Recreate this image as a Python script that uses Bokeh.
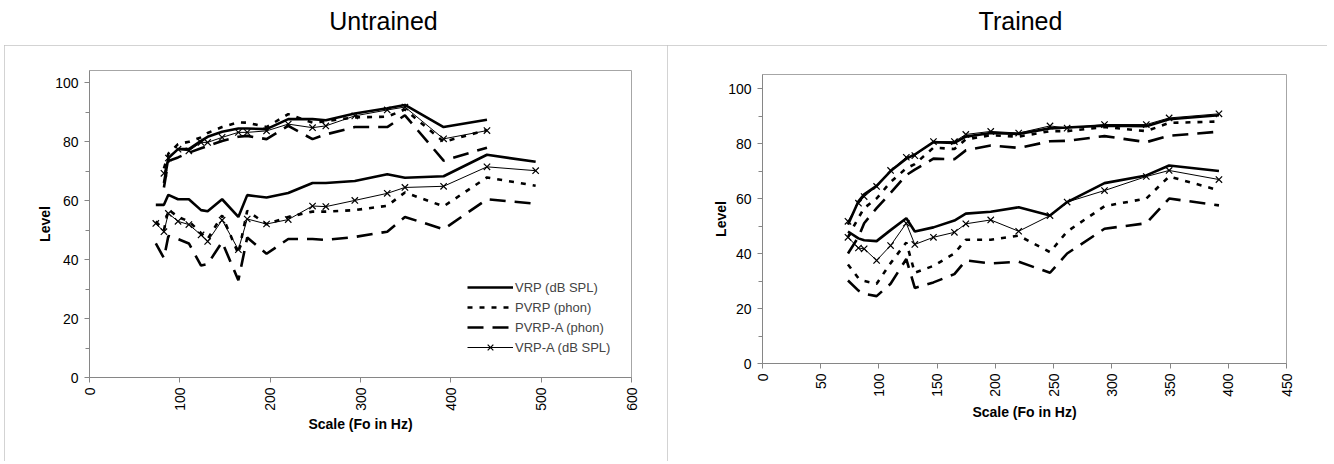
import numpy as np
from bokeh.plotting import figure
from bokeh.models import FixedTicker, Legend, LegendItem, Range1d, Spacer
from bokeh.layouts import column, row
from bokeh.embed import file_html
from bokeh.resources import INLINE
from bokeh.core.properties import value

nan = float("nan")

# ---------------- data ----------------
series_names = ["VRP (dB SPL)", "PVRP (phon)", "PVRP-A (phon)", "VRP-A (dB SPL)"]
panel_titles = ["Untrained", "Trained"]
x_label = "Scale (Fo in Hz)"
y_label = "Level"

# Untrained (left panel)
u_hz = [73.4, 82.4, 87.3, 98.0, 110.0, 123.5, 130.8, 146.8, 164.8, 174.6,
        196.0, 220.0, 246.9, 261.6, 293.7, 329.6, 349.2, 392.0, 440.0, 493.9]
u_vrp_up = [nan, 66, 74.5, 77.5, 77.5, 80.3, 81.7, 83.4, 84.5, 84.5,
            84.3, 87.7, 87.7, 87.3, 89.6, 91.4, 92.5, 85.0, 87.5, nan]
u_vrp_lo = [58.6, 58.6, 62.0, 60.5, 60.5, 56.8, 56.4, 60.5, 54.5, 61.9,
            61.1, 62.6, 66.0, 66.0, 66.7, 69.0, 67.8, 68.3, 75.6, 73.2]
u_pvrp_up = [nan, 71, 76, 79.2, 80, 81.5, 83, 85, 86.6, 86.5,
             85, 89.4, 86.5, 87, 88.3, 88.5, 91, 80, 84, nan]
u_pvrp_lo = [53, 50, 57, 54.5, 53, 49, 47, 55, 42, 56.6,
             52, 54.5, 56.3, 56.3, 56.8, 58.3, 62.8, 58.1, 67.9, 65.1]
u_pvrpa_up = [nan, 64.5, 73.5, 74.7, 76.3, 77.8, 78.6, 80.3, 81.7, 82,
              80.9, 85.4, 80.9, 82.5, 85, 85, 89, 73.6, 78, nan]
u_pvrpa_lo = [45.5, 40.5, 48, 47, 45.5, 38, 38.5, 46, 33, 47.5,
              42, 47, 47, 46.7, 47.7, 49.5, 54.5, 50.3, 60.5, 59]
u_vrpa_up = [nan, 69.3, 74.5, 77.5, 76.9, 79.8, 79.8, 81.5, 83.2, 83.2,
             83.7, 86, 84.8, 85.4, 88.8, 90.8, 91.8, 81, 83.8, nan]
u_vrpa_lo = [52.3, 49.5, 55.7, 53, 51.9, 48.4, 46.2, 53.4, 43.4, 53.8,
             52.1, 53.6, 58.2, 58, 60.1, 62.5, 64.5, 64.9, 71.5, 70.2]

# Trained (right panel)
t_hz = [73.4, 82.4, 87.3, 98.0, 110.0, 123.5, 130.8, 146.8, 164.8, 174.6,
        196.0, 220.0, 246.9, 261.6, 293.7, 329.6, 349.2, 392.0]
t_vrp_up = [50.5, 59, 61.5, 64.6, 70, 74.5, 76, 80.5, 80.2, 82.5,
            83.8, 83.5, 85.5, 85.8, 86.5, 86.3, 88.8, 90.3]
t_vrp_lo = [48, 45.5, 44.8, 44.5, 48.5, 52.8, 48, 49.5, 52, 54.5,
            55.2, 56.8, 53.8, 58.7, 65.6, 68.4, 72, 70]
t_pvrp_up = [46, 53, 56.5, 60, 66, 71, 72.5, 78.5, 78, 81.5,
             83, 82.5, 84.5, 84.5, 86, 84.5, 87.5, 88]
t_pvrp_lo = [36, 31, 30, 29, 36.5, 44, 33, 35.5, 40, 45,
             45, 46.5, 40.5, 48, 57.2, 60, 68, 63]
t_pvrpa_up = [40, 46, 51, 56.5, 62, 68.5, 70.5, 74.5, 74.3, 77.5,
              79.3, 78.4, 80.8, 81, 82.7, 80.5, 82.8, 84.3]
t_pvrpa_lo = [30.2, 26.5, 25.3, 24.5, 29, 38, 27.5, 29.5, 32.5, 37.5,
              36.4, 37, 33, 40, 49, 51, 60, 57.5]
t_vrpa_up = [51.7, 58.3, 60.7, 64.4, 70.2, 75, 75.6, 80.7, 80.7, 83.3,
             84.4, 83.8, 86.4, 85.6, 86.9, 86.9, 89.3, 90.8]
t_vrpa_lo = [45.9, 42, 41.7, 37.5, 42.9, 51, 43.3, 45.9, 47.7, 50.8,
             52.2, 48.1, 53.8, 58.7, 62.9, 68, 70.2, 66.9]

u_x_ticks = [0, 100, 200, 300, 400, 500, 600]
t_x_ticks = [0, 50, 100, 150, 200, 250, 300, 350, 400, 450]
y_ticks = [0, 20, 40, 60, 80, 100]
y_minor = [10, 30, 50, 70, 90]

# ---------------- styling ----------------
FONT = "Liberation Sans"
AXIS_GREY = "#868686"
STYLES = [
    dict(line_width=2.6, line_dash="solid"),
    dict(line_width=2.6, line_dash="5 7"),
    dict(line_width=2.6, line_dash="16 9"),
    dict(line_width=1.0, line_dash="solid"),
]


def make_panel(hz, series, x_max, x_ticks, y_max, bl, fw, br, bt, fh, bb,
               legend_on, ylab_standoff, xlab_standoff):
    p = figure(frame_width=fw, frame_height=fh,
               min_border_left=bl, min_border_right=br,
               min_border_top=bt, min_border_bottom=bb,
               x_range=Range1d(0, x_max), y_range=Range1d(0, y_max),
               output_backend="svg", toolbar_location=None,
               background_fill_color="white", border_fill_color="white",
               styles={"outline": "1px solid #c4c4c4", "outline-offset": "-1px"})
    p.grid.visible = False
    p.outline_line_color = "#a6a6a6"
    p.outline_line_width = 1

    p.xaxis.ticker = FixedTicker(ticks=x_ticks, minor_ticks=[])
    p.yaxis.ticker = FixedTicker(ticks=y_ticks, minor_ticks=y_minor)
    for ax in (p.xaxis, p.yaxis):
        ax.axis_line_color = AXIS_GREY
        ax.major_tick_line_color = AXIS_GREY
        ax.minor_tick_line_color = AXIS_GREY
        ax.major_tick_in = 0
        ax.major_tick_out = 5
        ax.minor_tick_in = 0
        ax.minor_tick_out = 4
        ax.major_label_text_font = FONT
        ax.major_label_text_font_size = "14px"
        ax.major_label_text_color = "black"
        ax.axis_label_text_font = FONT
        ax.axis_label_text_font_style = "bold"
        ax.axis_label_text_font_size = "14px"
        ax.axis_label_text_color = "black"
    p.xaxis.major_label_orientation = np.pi / 2
    p.xaxis.major_label_standoff = 5
    p.xaxis.axis_label = x_label
    p.xaxis.axis_label_standoff = xlab_standoff
    p.yaxis.major_label_standoff = 6
    p.yaxis.axis_label = y_label
    p.yaxis.axis_label_standoff = ylab_standoff

    items = []
    for i, (up, lo) in enumerate(series):
        st = STYLES[i]
        p.line(hz, up, line_color="black", **st)
        r_lo = p.line(hz, lo, line_color="black", **st)
        rends = [r_lo]
        if i == 3:
            p.scatter(hz, up, marker="x", size=9, line_color="black", line_width=1.2)
            m = p.scatter(hz, lo, marker="x", size=9, line_color="black", line_width=1.2)
            rends.append(m)
        items.append(LegendItem(label=series_names[i], renderers=rends))

    if legend_on:
        lg = Legend(items=items, location=(378, 20), padding=0, margin=0, spacing=0,
                    glyph_width=46, glyph_height=20, label_height=20,
                    label_text_font=FONT, label_text_font_size="13px",
                    label_standoff=2,
                    border_line_alpha=0, background_fill_alpha=0)
        p.add_layout(lg)
    return p


left = make_panel(np.array(u_hz),
                  [(np.array(u_vrp_up), np.array(u_vrp_lo)),
                   (np.array(u_pvrp_up), np.array(u_pvrp_lo)),
                   (np.array(u_pvrpa_up), np.array(u_pvrpa_lo)),
                   (np.array(u_vrpa_up), np.array(u_vrpa_lo))],
                  600, u_x_ticks, 104.2, 85, 542, 36, 25, 307, 84, True, -1, 2)

right = make_panel(np.array(t_hz),
                   [(np.array(t_vrp_up), np.array(t_vrp_lo)),
                    (np.array(t_pvrp_up), np.array(t_pvrp_lo)),
                    (np.array(t_pvrpa_up), np.array(t_pvrpa_lo)),
                    (np.array(t_vrpa_up), np.array(t_vrpa_lo))],
                   450, t_x_ticks, 105.1, 95, 524, 41, 29, 289, 98, False, -4, 4)

# title strip
tp = figure(width=1330, height=45, x_range=Range1d(0, 1330), y_range=Range1d(45, 0),
            output_backend="svg", toolbar_location=None, min_border=0,
            outline_line_color=None)
tp.axis.visible = False
tp.grid.visible = False
tp.text(x=[383, 1020], y=[20, 20], text=panel_titles,
        text_font=value(FONT), text_font_size="25px",
        text_align="center", text_baseline="middle", text_color="black")

layout = column(tp,
                row(Spacer(width=4, height=10), column(left), column(right), spacing=0),
                spacing=0)
open("out.html", "w").write(file_html(layout, INLINE))
